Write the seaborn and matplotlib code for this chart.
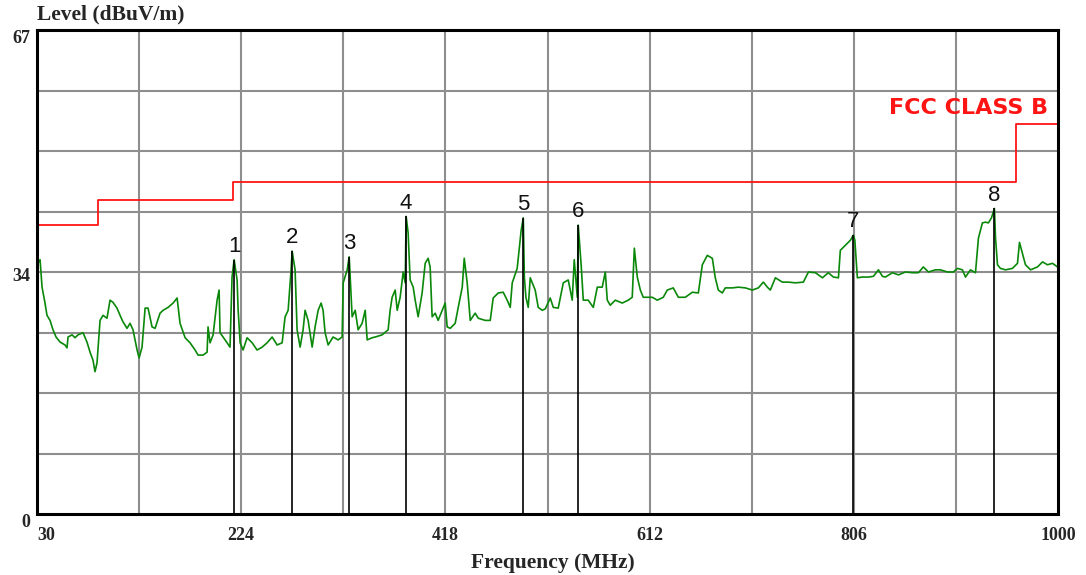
import matplotlib
matplotlib.use("Agg")
import matplotlib.pyplot as plt
import numpy as np
import pandas as pd
import seaborn as sns

# measured trace (MHz, dBuV/m)
freq = [
    30.0, 32.9, 33.5, 34.8, 37.6, 39.5, 42.4, 45.2, 48.1, 51.9, 56.6, 58.5, 59.5, 63.3, 66.1, 69.0,
    73.7, 77.5, 80.4, 83.2, 85.1, 87.0, 89.9, 92.7, 96.5, 99.4, 102.2, 106.0, 108.9, 111.7, 115.5,
    118.4, 121.2, 125.1, 127.0, 129.8, 132.7, 135.5, 139.3, 142.2, 146.9, 149.8, 154.5, 159.3, 163.1,
    165.9, 170.7, 175.4, 180.2, 183.0, 187.8, 191.6,
    192.5, 194.4, 197.3, 201.1, 203.0, 203.9, 206.8, 210.6, 213.4, 215.3, 217.3, 220.1, 221.1, 223.0,
    225.8, 229.6, 234.4, 239.1, 243.9, 248.6, 253.4, 258.1, 262.9, 265.7, 268.6, 271.4, 272.4, 275.2,
    277.1, 280.0, 282.8, 284.7, 287.6, 291.4, 294.2, 297.1, 299.9, 301.8, 303.7, 306.6, 311.3, 316.1,
    319.9, 320.9, 324.7, 326.6, 329.4, 332.3, 335.1, 338.9, 341.8, 343.7, 348.4,
    351.3, 357.9, 363.6, 365.5, 367.4, 370.3, 372.2, 375.0, 377.9, 379.8, 380.7, 382.6, 384.5, 387.4,
    389.3, 392.1, 395.9, 398.8, 401.6, 403.5, 405.4, 408.3, 411.1, 415.0, 417.8, 419.7, 422.6, 427.3,
    430.2, 434.0, 435.9, 438.7, 441.6, 446.3, 449.2, 455.8, 460.6, 463.4, 468.2, 472.9, 476.7, 479.6,
    481.5, 486.2, 490.0, 492.0, 493.0, 494.5, 496.7, 498.6, 503.3, 506.2, 510.0,
    512.9, 517.6, 520.5, 525.2, 530.0, 534.7, 538.5, 540.4, 543.3, 544.2, 547.1, 549.0, 553.7, 558.5,
    562.3, 567.0, 569.9, 571.8, 574.6, 579.4, 586.0, 591.7, 595.5, 597.5, 600.3, 603.2, 606.0, 614.6,
    619.3, 625.0, 628.8, 634.5, 639.3, 645.9, 652.6, 658.3, 662.1, 666.8, 671.6, 674.4, 677.3,
    681.1, 683.9, 690.6, 696.3, 703.0, 709.6, 715.3, 720.1, 723.9, 726.7, 731.5, 738.1, 743.8, 750.5,
    758.1, 762.9, 769.5, 776.2, 781.8, 786.6, 791.4, 793.2, 798.0, 802.8, 805.6, 807.0, 809.4, 814.2,
    819.9, 824.6, 829.4, 833.2,
    836.0, 842.7, 848.4, 855.0, 861.7, 867.4, 872.1, 876.9, 883.5, 888.3, 895.0, 900.7, 904.5, 909.2,
    912.1, 916.8, 921.6, 924.4, 928.2, 931.1, 933.9, 936.8, 939.6, 940.6, 942.5, 945.3, 950.1, 956.7,
    961.5, 963.4, 966.2, 969.1, 973.9, 980.5, 985.3, 990.0, 994.8, 999.5, 1000.0,
]
level = [
    34.5, 35.2, 34.0, 31.4, 29.2, 27.5, 26.8, 25.5, 24.5, 23.8, 23.4, 23.0, 24.5, 24.8, 24.4, 24.8,
    25.1, 23.8, 22.4, 21.3, 19.7, 20.9, 26.8, 27.5, 27.1, 29.6, 29.3, 28.5, 27.5, 26.6, 25.7,
    26.4, 25.5, 22.7, 21.6, 23.1, 28.5, 28.5, 25.9, 25.7, 27.8, 28.2, 28.6, 29.2, 29.9,
    26.4, 24.4, 23.7, 22.7, 22.0, 22.0, 22.4,
    25.9, 23.7, 24.8, 29.6, 31.0, 25.1, 24.5, 23.7, 23.1, 32.8, 35.2, 32.4, 28.2, 23.7,
    22.7, 24.4, 23.7, 22.7, 23.1, 23.7, 24.5, 23.4, 23.7, 27.3, 28.2, 33.8, 36.4, 33.8,
    25.5, 23.1, 25.5, 28.2, 26.8, 23.1, 25.9, 28.2, 29.2, 28.2, 25.1, 23.4, 24.5, 24.1,
    24.5, 32.0, 33.8, 35.6, 27.3, 28.2, 25.5, 26.4, 28.2, 24.1, 24.4,
    24.5, 24.8, 25.5, 28.2, 30.0, 31.0, 28.2, 30.0, 33.5, 32.0, 41.2, 38.9, 32.4, 31.4,
    29.6, 27.3, 30.6, 34.7, 35.4, 34.2, 27.3, 27.8, 26.8, 28.2, 29.2, 25.9, 25.7, 26.4,
    28.6, 31.4, 35.4, 32.0, 26.8, 27.8, 27.1, 26.8, 26.8, 29.9, 30.6, 30.7, 29.6, 28.6,
    32.0, 34.0, 39.3, 41.0, 32.8, 30.0, 28.6, 32.7, 31.0, 28.6, 28.2,
    28.4, 29.9, 28.6, 28.5, 32.0, 32.4, 29.6, 35.2, 30.0, 40.0, 34.2, 29.6, 29.6, 28.6,
    31.4, 31.4, 33.5, 29.6, 28.9, 29.6, 29.2, 29.6, 30.0, 36.8, 32.8, 31.0, 30.0, 30.0,
    29.6, 30.0, 31.0, 31.3, 30.0, 30.0, 30.7, 30.6, 34.5, 35.8, 35.4, 32.7, 31.0,
    30.6, 31.3, 31.3, 31.4, 31.3, 31.0, 31.3, 32.1, 31.4, 31.0, 32.7, 32.1, 32.1, 32.0,
    32.1, 33.5, 33.4, 32.7, 33.4, 32.8, 32.7, 36.5, 37.2, 37.9, 38.6, 37.9, 32.7, 32.8,
    32.8, 32.9, 33.8, 32.9,
    32.8, 33.4, 33.1, 33.5, 33.4, 33.4, 34.2, 33.5, 33.8, 33.8, 33.5, 33.5, 34.0, 33.8,
    32.8, 33.8, 33.4, 38.2, 40.3, 40.4, 40.3, 41.0, 42.3, 38.3, 34.5, 34.0, 33.8, 34.0,
    34.7, 37.6, 36.1, 34.5, 33.8, 34.2, 34.9, 34.5, 34.7, 34.2, 34.2,
]

# FCC class B limit (step edges)
limit_freq = [30, 88, 216, 960, 1000]
limit_level = [40.0, 43.5, 46.0, 54.0, 54.0]

# peak markers
marker_freq = [217.3, 272.4, 326.6, 380.7, 492.0, 544.2, 805.6, 939.6]
marker_level = [35.2, 36.4, 35.6, 41.2, 41.0, 40.0, 38.6, 42.3]
marker_names = ["1", "2", "3", "4", "5", "6", "7", "8"]

x_ticks = [30, 224, 418, 612, 806, 1000]
y_ticks = [0, 34, 67]

sns.set_theme(style="white")
plt.rcParams["font.family"] = ["DejaVu Sans"]

fig = plt.figure(figsize=(10.86, 5.75), dpi=100)
ax = fig.add_axes([37 / 1086, 61 / 575, 1021 / 1086, 484 / 575])

grid_kw = dict(color="#8e8e8e", lw=1.5, zorder=0)
for gx in np.arange(30, 1000, 97)[1:]:
    ax.axvline(gx, **grid_kw)
for gy in np.linspace(0, 67, 9)[1:-1]:
    ax.axhline(gy, **grid_kw)

trace = pd.DataFrame({"freq": freq, "level": level})
sns.lineplot(data=trace, x="freq", y="level", color="#0a880a", lw=1.2, sort=False,
             estimator=None, ax=ax, zorder=3)

limit = pd.DataFrame({"freq": limit_freq, "level": limit_level})
sns.lineplot(data=limit, x="freq", y="level", color="#ff1414", lw=1.3, drawstyle="steps-post",
             estimator=None, ax=ax, zorder=4)

ax.vlines(marker_freq, 0, marker_level, color="black", lw=1.2, zorder=5)
for fx, lv, name in zip(marker_freq, marker_level, marker_names):
    ax.annotate(name, (fx, lv), xytext=(0, 2), textcoords="offset points", ha="center", va="bottom",
                fontsize=16, color="#111111", family=["Liberation Sans", "DejaVu Sans"])

ax.text(991, 56.2, "FCC CLASS B", color="#ff1414", fontsize=16, fontweight="bold",
        ha="right", va="center", zorder=6)

ax.set_xlim(30, 1000)
ax.set_ylim(0, 67)
ax.set_xlabel("")
ax.set_ylabel("")
serif = ["Liberation Serif", "DejaVu Serif"]
ax.set_xticks(x_ticks)
ax.set_xticklabels([str(v) for v in x_ticks], fontsize=13, fontweight="bold", family=serif)
ax.set_yticks(y_ticks)
ax.set_yticklabels([str(v) for v in y_ticks], fontsize=13, fontweight="bold", family=serif, va="top")
ax.get_xticklabels()[0].set_ha("left")
ax.tick_params(axis="x", length=0, pad=9)
ax.tick_params(axis="y", length=0, pad=5)

for side in ["left", "right", "top", "bottom"]:
    ax.spines[side].set_visible(True)
    ax.spines[side].set_color("black")
    ax.spines[side].set_linewidth(2.2)
    ax.spines[side].set_zorder(7)

fig.text(37 / 1086, 1 - 14 / 575, "Level (dBuV/m)", fontsize=15.5, fontweight="bold", family=serif,
         ha="left", va="center")
fig.text(553 / 1086, 1 - 563 / 575, "Frequency (MHz)", fontsize=15.5, fontweight="bold", family=serif,
         ha="center", va="center")

fig.savefig("out.png", dpi=100)
plt.close(fig)
